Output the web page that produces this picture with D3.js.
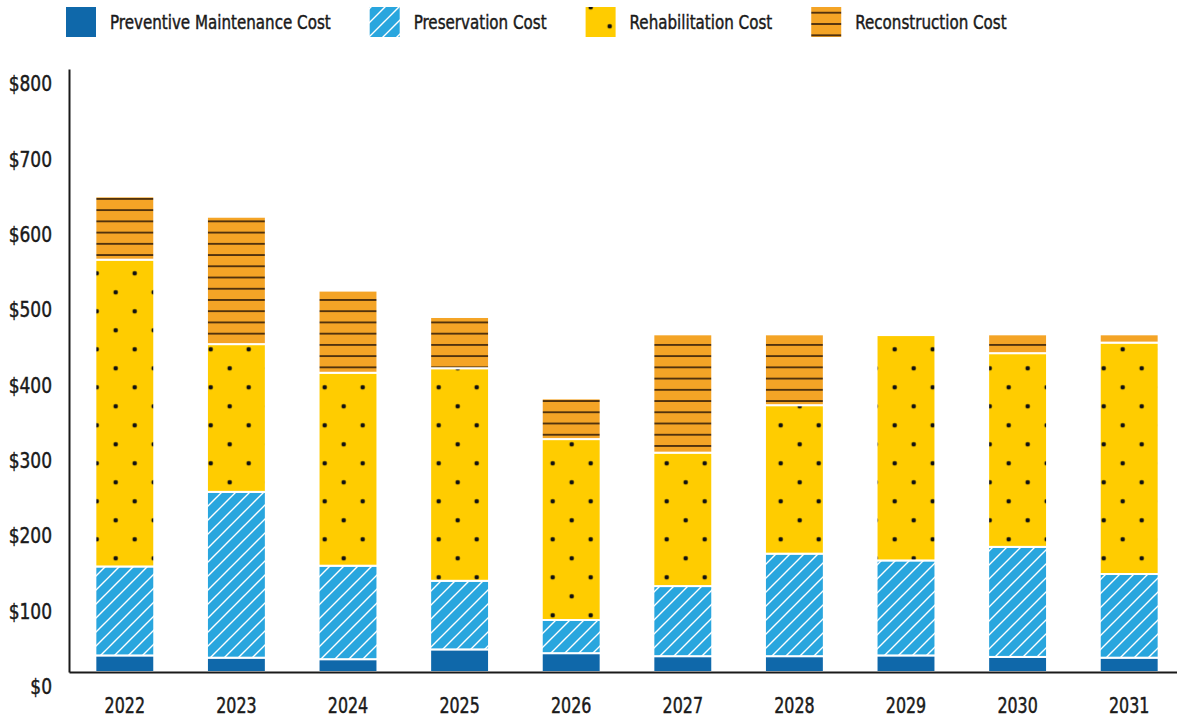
<!DOCTYPE html>
<html>
<head>
<meta charset="utf-8">
<script src="https://cdn.jsdelivr.net/npm/d3@7"></script>
<style>
  html, body { margin: 0; padding: 0; background: #fff; }
  svg { display: block; }
  text {
    font-family: 'Liberation Sans Narrow', 'DejaVu Sans Condensed', 'Roboto Condensed', sans-serif;
    fill: #1a1a1a;
    stroke: #1a1a1a;
    stroke-width: 0.45px;
  }
</style>
</head>
<body>
<svg id="chart" width="1177" height="717"></svg>
<script>
// Annual cost by treatment type (millions of dollars)
const years = ["2022", "2023", "2024", "2025", "2026", "2027", "2028", "2029", "2030", "2031"];
const preventiveMaintenance = [22, 19, 17, 30, 25, 21, 21, 22, 20, 19];
const preservation          = [118, 220, 124, 91, 44, 93, 136, 126, 146, 111];
const rehabilitation        = [407, 196, 256, 282, 240, 177, 197, 299, 257, 307];
const reconstruction        = [84, 169, 109, 68, 54, 157, 94, 0, 25, 11];
const seriesNames = ["Preventive Maintenance Cost", "Preservation Cost", "Rehabilitation Cost", "Reconstruction Cost"];
const yTicks = [0, 100, 200, 300, 400, 500, 600, 700, 800];

const keys = ["pm", "pres", "rehab", "recon"];
const rows = years.map((yr, i) => ({
  year: yr,
  pm: preventiveMaintenance[i],
  pres: preservation[i],
  rehab: rehabilitation[i],
  recon: reconstruction[i]
}));

// Squeeze text horizontally to a narrow face
function condense(sel, factor) {
  sel.each(function () {
    const w = this.getComputedTextLength();
    d3.select(this).attr("textLength", w * factor).attr("lengthAdjust", "spacingAndGlyphs");
  });
}

const svg = d3.select("#chart");
const defs = svg.append("defs");

// Fill patterns
defs.append("pattern")
  .attr("id", "pat-pres").attr("patternUnits", "userSpaceOnUse")
  .attr("width", 14).attr("height", 14)
  .call(p => {
    p.append("rect").attr("width", 14).attr("height", 14).attr("fill", "#29a6de");
    p.append("path").attr("d", "M-2,2 L2,-2 M0,14 L14,0 M12,16 L16,12")
      .attr("stroke", "#ffffff").attr("stroke-width", 1.4);
  });

defs.append("pattern")
  .attr("id", "pat-rehab").attr("patternUnits", "userSpaceOnUse")
  .attr("x", 96.7).attr("y", 273.3)
  .attr("width", 38).attr("height", 38)
  .call(p => {
    p.append("rect").attr("width", 38).attr("height", 38).attr("fill", "#ffcc00");
    [[0, 0], [38, 0], [0, 38], [38, 38], [19, 19]].forEach(([cx, cy]) =>
      p.append("circle").attr("cx", cx).attr("cy", cy).attr("r", 2.3).attr("fill", "#111"));
  });

defs.append("pattern")
  .attr("id", "pat-recon").attr("patternUnits", "userSpaceOnUse")
  .attr("x", 0).attr("y", 198.9 - 11.23 * 17)
  .attr("width", 20).attr("height", 11.23)
  .call(p => {
    p.append("rect").attr("width", 20).attr("height", 11.23).attr("fill", "#f4a426");
    p.append("rect").attr("y", -0.9).attr("width", 20).attr("height", 1.8).attr("fill", "#4a2d0c");
    p.append("rect").attr("y", 11.23 - 0.9).attr("width", 20).attr("height", 1.8).attr("fill", "#4a2d0c");
  });

defs.append("pattern")
  .attr("id", "pat-recon-key").attr("patternUnits", "userSpaceOnUse")
  .attr("x", 0).attr("y", 12.7)
  .attr("width", 20).attr("height", 11.3)
  .call(p => {
    p.append("rect").attr("width", 20).attr("height", 11.3).attr("fill", "#f4a426");
    p.append("rect").attr("y", -0.9).attr("width", 20).attr("height", 1.8).attr("fill", "#4a2d0c");
    p.append("rect").attr("y", 11.3 - 0.9).attr("width", 20).attr("height", 1.8).attr("fill", "#4a2d0c");
  });

const fills = { pm: "#0f68aa", pres: "url(#pat-pres)", rehab: "url(#pat-rehab)", recon: "url(#pat-recon)" };
const keyFills = { pm: "#0f68aa", pres: "url(#pat-pres)", rehab: "url(#pat-rehab)", recon: "url(#pat-recon-key)" };

// Scales
const x = d3.scaleBand().domain(years).range([69, 1185]).paddingInner(0.49).paddingOuter(0.245);
const y = d3.scaleLinear().domain([0, 800]).range([672, 69]);

const stacked = d3.stack().keys(keys)(rows);

// Bars
const barGroup = svg.append("g");
stacked.forEach(layer => {
  barGroup.append("g")
    .selectAll("rect")
    .data(layer.filter(d => d[1] > d[0]))
    .join("rect")
    .attr("x", d => x(d.data.year) - 1)
    .attr("width", x.bandwidth() + 2)
    .attr("y", d => y(d[1]))
    .attr("height", d => y(d[0]) - y(d[1]))
    .attr("fill", fills[layer.key])
    .attr("stroke", "#ffffff")
    .attr("stroke-width", 2);
});

// Y axis
const yAxis = svg.append("g")
  .attr("transform", "translate(69,0)")
  .call(d3.axisLeft(y).tickValues(yTicks).tickSize(0).tickSizeOuter(0).tickPadding(17).tickFormat(d => "$" + d));
yAxis.select(".domain").attr("stroke", "#1a1a1a").attr("stroke-width", 2);
yAxis.selectAll(".tick text")
  .attr("font-size", 22)
  .attr("font-family", null)
  .attr("dy", "0.35em")
  .attr("y", 14)
  .call(condense, 0.86);

// X axis
const xAxis = svg.append("g")
  .attr("transform", "translate(0,672)")
  .call(d3.axisBottom(x).tickSize(0).tickSizeOuter(0));
xAxis.select(".domain").attr("stroke", "#1a1a1a").attr("stroke-width", 2);
xAxis.selectAll(".tick text")
  .attr("font-size", 21)
  .attr("font-family", null)
  .attr("y", 33.5)
  .attr("dy", "0.35em")
  .call(condense, 0.84);

// Legend
const legend = svg.append("g");
let lx = 66;
keys.forEach((k, i) => {
  const item = legend.append("g");
  item.append("rect")
    .attr("x", lx).attr("y", 7).attr("width", 30).attr("height", 30)
    .attr("fill", keyFills[k]);
  const t = item.append("text")
    .attr("x", lx + 44).attr("y", 22).attr("dy", "0.35em")
    .attr("font-size", 20)
    .text(seriesNames[i]);
  t.call(condense, 0.84);
  lx = lx + 44 + (+t.attr("textLength")) + 39;
});
</script>
</body>
</html>
